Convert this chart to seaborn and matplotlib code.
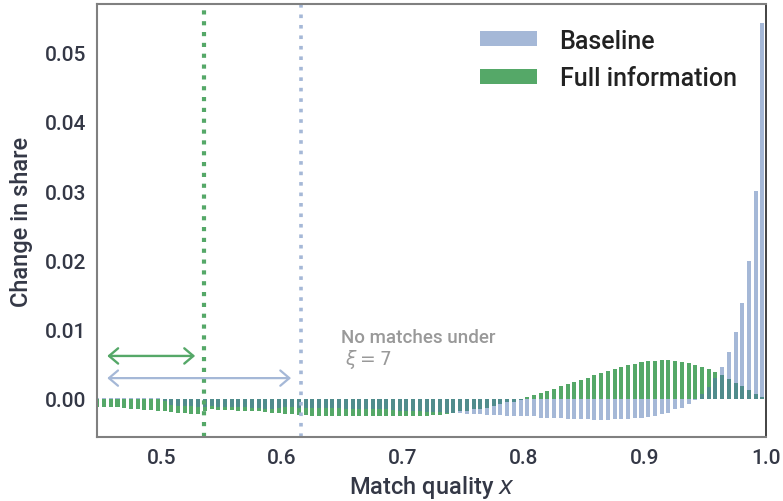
import numpy as np
import pandas as pd
import matplotlib
matplotlib.use('Agg')
import matplotlib.pyplot as plt
import seaborn as sns
from matplotlib.patches import Patch

# --- data: share change per match-quality bin (180 bins on [0, 1], bins 80..179 shown) ---
N_BINS = 180
FIRST_BIN = 80
match_quality = (np.arange(FIRST_BIN, N_BINS) + 0.5) / N_BINS

baseline = [
    0.0001, 0.0001, 0.0001, 0.0001, 0.0001, 0.0001, 0.0001, 0.0001, 0.0001, 0.0001,
    -0.0003, -0.0009, -0.0010, -0.0010, -0.0010, -0.0011, -0.0011, -0.0010, -0.0011, -0.0011,
    -0.0011, -0.0012, -0.0012, -0.0013, -0.0013, -0.0014, -0.0014, -0.0013, -0.0012, -0.0012,
    -0.0013, -0.0013, -0.0013, -0.0013, -0.0013, -0.0013, -0.0013, -0.0014, -0.0014, -0.0014,
    -0.0014, -0.0015, -0.0014, -0.0014, -0.0016, -0.0017, -0.0017, -0.0017, -0.0018, -0.0019,
    -0.0019, -0.0019, -0.0020, -0.0020, -0.0020, -0.0022, -0.0022, -0.0022, -0.0023, -0.0023,
    -0.0023, -0.0024, -0.0024, -0.0025, -0.0025, -0.0025, -0.0027, -0.0027, -0.0027, -0.0028,
    -0.0029, -0.0029, -0.0029, -0.0029, -0.0030, -0.0030, -0.0030, -0.0029, -0.0029, -0.0029,
    -0.0028, -0.0027, -0.0026, -0.0024, -0.0022, -0.0020, -0.0015, -0.0013, -0.0007, -0.00015,
    0.0007, 0.0017, 0.0030, 0.0046, 0.0068, 0.0097, 0.0138, 0.0199, 0.0300, 0.0542,
]

full_info = [
    -0.0011, -0.0011, -0.0012, -0.0012, -0.0013, -0.0014, -0.0014, -0.0016, -0.0016, -0.0017,
    -0.0017, -0.0019, -0.0020, -0.0020, -0.0022, -0.0022, -0.0017, -0.0014, -0.0016, -0.0016,
    -0.0016, -0.0017, -0.0017, -0.0018, -0.0018, -0.0019, -0.0020, -0.0020, -0.0022, -0.0022,
    -0.0023, -0.0023, -0.0024, -0.0024, -0.0024, -0.0024, -0.0024, -0.0024, -0.0025, -0.0025,
    -0.0025, -0.0025, -0.0025, -0.0025, -0.0025, -0.0025, -0.0025, -0.0025, -0.0024, -0.0024,
    -0.0023, -0.0023, -0.0022, -0.0020, -0.0018, -0.0017, -0.0015, -0.0014, -0.0013, -0.0010,
    -0.0008, -0.0005, -0.0004, -0.00015, 0.00024, 0.0006, 0.0009, 0.00115, 0.0014, 0.0018,
    0.0021, 0.0024, 0.0027, 0.0030, 0.0035, 0.0037, 0.0040, 0.0043, 0.0046, 0.0049,
    0.0050, 0.0053, 0.0055, 0.0055, 0.0056, 0.0056, 0.0055, 0.0053, 0.0052, 0.0049,
    0.0046, 0.0043, 0.0039, 0.0035, 0.0029, 0.0023, 0.0019, 0.0013, 0.0007, 0.0003,
]

series_labels = ['Baseline', 'Full information']
x_ticks = [0.5, 0.6, 0.7, 0.8, 0.9, 1.0]
y_ticks = [0.00, 0.01, 0.02, 0.03, 0.04, 0.05]

# thresholds (xi = 7) and annotation
xi_full = 0.5355
xi_base = 0.6157
arrow_start = 0.4554
arrow_full_end = 0.5281
arrow_base_end = 0.6074

# --- style ---
BLUE = '#4c72b0'
BLUE_LIGHT = '#a5b8d7'
GREEN = '#55a868'
TEXT = '#343846'

sns.set_style('white')
plt.rcParams['font.family'] = ['Roboto', 'DejaVu Sans']
plt.rcParams['font.weight'] = 'medium'
plt.rcParams['axes.labelweight'] = 'medium'

df = pd.DataFrame({'x': match_quality, 'baseline': baseline, 'full': full_info})

fig = plt.figure(figsize=(7.83, 5.02), dpi=100)
ax = fig.add_axes([0.124, 0.1275, 0.854, 0.8625])

sns.barplot(data=df, x='x', y='full', native_scale=True, orient='x', width=0.6,
            color=GREEN, saturation=1, errorbar=None, ax=ax, linewidth=0)
sns.barplot(data=df, x='x', y='baseline', native_scale=True, orient='x', width=0.6,
            color=BLUE, alpha=0.5, saturation=1, errorbar=None, ax=ax, linewidth=0)

ax.axvline(xi_full, color=GREEN, lw=3.0, ls=(0, (1, 1.6)))
ax.axvline(xi_base, color=BLUE_LIGHT, lw=2.6, ls=(0, (1, 1.9)))

ax.annotate('', xy=(arrow_start, 0.0062), xytext=(arrow_full_end, 0.0062),
            arrowprops=dict(arrowstyle='<->,head_length=0.65,head_width=0.55',
                            color=GREEN, lw=1.7, shrinkA=0, shrinkB=0))
ax.annotate('', xy=(arrow_start, 0.0030), xytext=(arrow_base_end, 0.0030),
            arrowprops=dict(arrowstyle='<->,head_length=0.65,head_width=0.55',
                            color=BLUE_LIGHT, lw=1.6, shrinkA=0, shrinkB=0))
ax.text(0.6488, 0.0103, 'No matches under\n $\\xi = 7$', color='#999999',
        fontsize=13.5, fontweight='medium', va='top', ha='left', linespacing=1.1)

ax.set_xlim(0.447, 1.0)
ax.set_ylim(-0.0055, 0.057)
ax.set_xticks(x_ticks)
ax.set_xticklabels([f'{t:.1f}' for t in x_ticks])
ax.set_yticks(y_ticks)
ax.set_yticklabels([f'{t:.2f}' for t in y_ticks])
ax.tick_params(length=0, labelsize=15, labelcolor=TEXT, pad=8)

ax.set_xlabel('Match quality $x$', fontsize=17, color=TEXT, labelpad=4)
ax.set_ylabel('Change in share', fontsize=17, color=TEXT, labelpad=8)

for side in ['left', 'bottom', 'top']:
    ax.spines[side].set_color('#808080')
    ax.spines[side].set_linewidth(1.5)
ax.spines['right'].set_color('#222222')
ax.spines['right'].set_linewidth(1.2)

handles = [Patch(facecolor=BLUE_LIGHT, edgecolor='none'),
           Patch(facecolor=GREEN, edgecolor='none')]
leg = ax.legend(handles, series_labels, loc='upper right', bbox_to_anchor=(0.99, 0.995),
                frameon=False, fontsize=18, handlelength=2.3, handleheight=0.55,
                handletextpad=0.9, labelspacing=0.55)
for t in leg.get_texts():
    t.set_color('#222222')

fig.savefig('out.png', dpi=100)
